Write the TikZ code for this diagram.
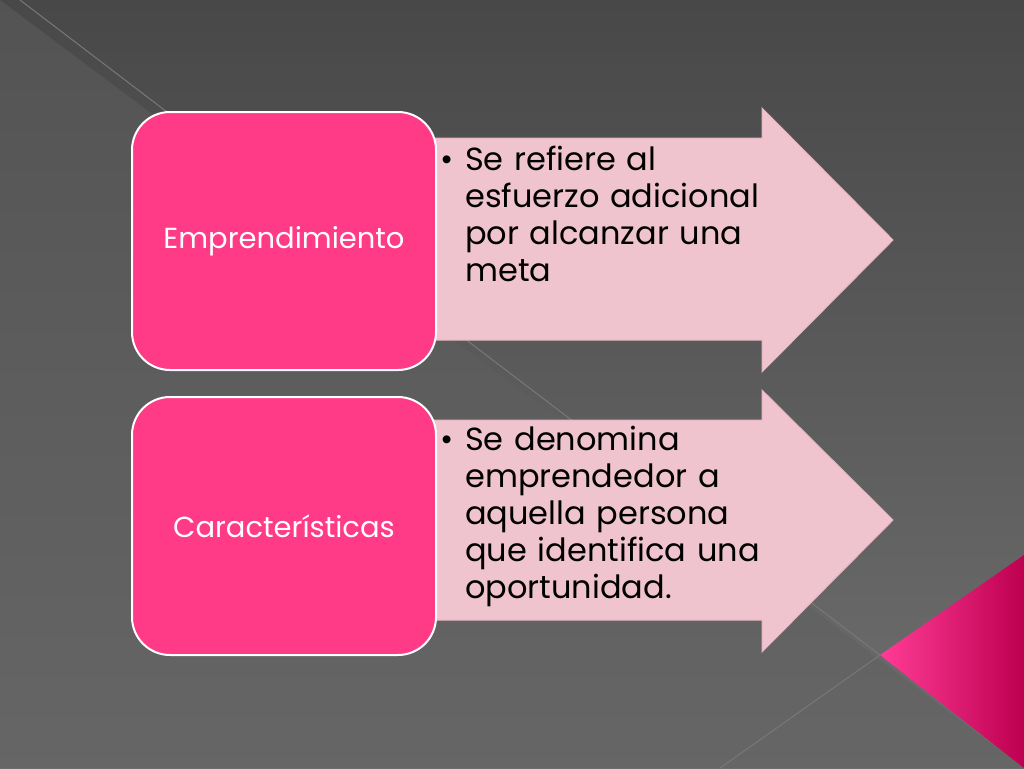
\documentclass[tikz,border=0pt]{standalone}
\usepackage{fontspec}
\setmainfont{Poppins}
\definecolor{bgtop}{RGB}{72,72,72}
\definecolor{bgbot}{RGB}{110,110,110}
\definecolor{bgmid}{RGB}{95,95,95}
\definecolor{lineg}{RGB}{120,120,120}
\definecolor{pinkA}{RGB}{255,60,150}
\definecolor{pinkB}{RGB}{190,0,80}
\definecolor{boxpink}{RGB}{255,58,135}
\definecolor{arrline}{RGB}{230,180,195}
\definecolor{arrfill}{RGB}{240,196,207}
\begin{document}
\begin{tikzpicture}[x=1pt,y=-1pt,
 box/.style={draw=white,line width=2pt,fill=boxpink,rounded corners=38pt},
 arr/.style={draw=arrline,line width=1pt,fill=arrfill},
 body/.style={font=\fontsize{32}{37}\selectfont,align=left,anchor=north west,text width=400pt,inner sep=0pt},
 lab/.style={font=\fontsize{29}{32}\selectfont,text=white}]
\useasboundingbox (0,0) rectangle (1024,768);
\shade[top color=bgtop,bottom color=bgbot] (0,0) rectangle (1024,768);
\fill[bgmid,opacity=0.5] (0,0) -- (1024,768) -- (0,768) -- cycle;
\draw[lineg,line width=1pt] (20,0) -- (880,655);
\draw[lineg,line width=1pt] (720,768) -- (880,655);
\shade[left color=pinkA,right color=pinkB] (880,655) -- (1024,555) -- (1024,768) -- cycle;
\draw[arr] (400,138) -- (762,138) -- (762,108) -- (893,240) -- (762,372) -- (762,340) -- (400,340) -- cycle;
\draw[arr] (400,420) -- (762,420) -- (762,390) -- (893,520) -- (762,652) -- (762,620) -- (400,620) -- cycle;
\node[box,minimum width=304pt,minimum height=258pt] (b1) at (284,241) {};
\node[box,minimum width=304pt,minimum height=258pt] (b2) at (284,526) {};
\node[lab] at (b1) {Emprendimiento};
\node[lab] at (b2) {Características};
\node[body] (t1) at (440,146) {\makebox[25pt][l]{\textbullet}Se refiere al\\\hspace{25pt}esfuerzo adicional\\\hspace{25pt}por alcanzar una\\\hspace{25pt}meta};
\node[body] (t2) at (440,426) {\makebox[25pt][l]{\textbullet}Se denomina\\\hspace{25pt}emprendedor a\\\hspace{25pt}aquella persona\\\hspace{25pt}que identifica una\\\hspace{25pt}oportunidad.};
\end{tikzpicture}
\end{document}
